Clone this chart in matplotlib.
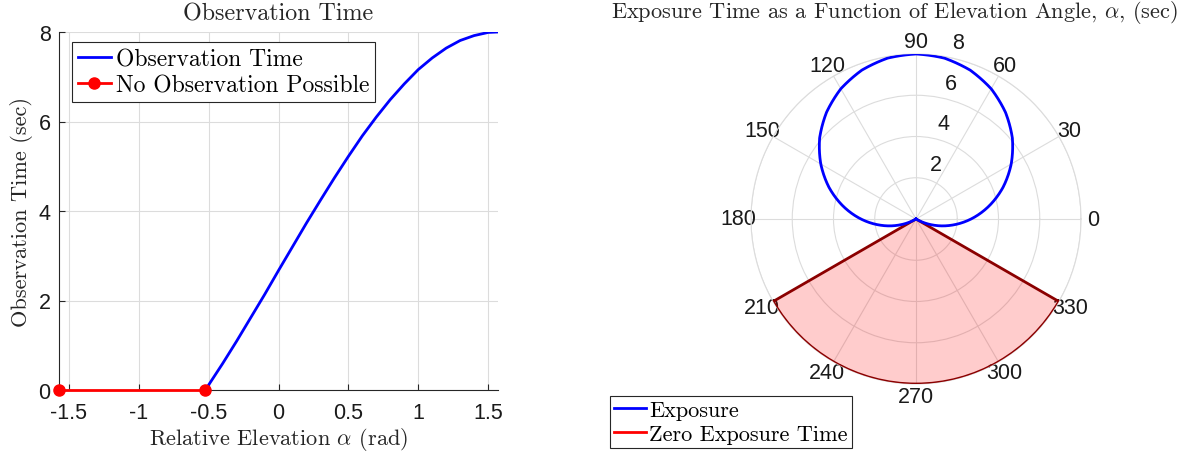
import numpy as np
import matplotlib
matplotlib.use("Agg")
import matplotlib.pyplot as plt
from matplotlib.lines import Line2D

# ---------------- data ----------------
# Left: observation time vs relative elevation (rad)
obs_alpha = [-0.5236, -0.4, -0.3, -0.2, -0.1, 0.0, 0.1, 0.2, 0.3, 0.4, 0.5,
             0.6, 0.7, 0.8, 0.9, 1.0, 1.1, 1.2, 1.3, 1.4, 1.5, 1.5708]
obs_time = [0.00, 0.59, 1.09, 1.61, 2.13, 2.67, 3.20, 3.73, 4.24, 4.74, 5.22,
            5.68, 6.10, 6.49, 6.84, 7.16, 7.42, 7.64, 7.81, 7.92, 7.99, 8.00]
noobs_alpha = [-1.5708, -0.5236]
noobs_time = [0.0, 0.0]

# Right: exposure time vs elevation angle (deg)
exp_theta_deg = [-30, -20, -10, 0, 10, 20, 30, 40, 50, 60, 70, 80, 90,
                 100, 110, 120, 130, 140, 150, 160, 170, 180, 190, 200, 210]
exp_r = [0.00, 0.84, 1.74, 2.67, 3.59, 4.49, 5.33, 6.10, 6.75, 7.29, 7.68, 7.92, 8.00,
         7.92, 7.68, 7.29, 6.75, 6.10, 5.33, 4.49, 3.59, 2.67, 1.74, 0.84, 0.00]
zero_sector_deg = [210, 330]
zero_sector_r = 8.0

x_ticks = [-1.5, -1, -0.5, 0, 0.5, 1, 1.5]
x_ticklabels = ["-1.5", "-1", "-0.5", "0", "0.5", "1", "1.5"]
y_ticks = [0, 2, 4, 6, 8]
theta_ticks = list(range(0, 360, 30))
r_ticks = [2, 4, 6, 8]

# ---------------- style ----------------
plt.rcParams['mathtext.fontset'] = 'cm'
plt.rcParams['axes.unicode_minus'] = False
SERIF = 'cmr10'
SANS = 'Liberation Sans'
GRID = '#dcdcdc'
AXC = '#262626'
TXT = '#262626'
W, H = 1204, 456

fig = plt.figure(figsize=(W / 100, H / 100), dpi=100)

# ---------------- left axes ----------------
ax = fig.add_axes([59 / W, 1 - 391 / H, (498 - 59) / W, (391 - 33) / H])
ax.plot(obs_alpha, obs_time, color='blue', lw=2.0, label='Observation Time')
ax.plot(noobs_alpha, noobs_time, color='red', lw=2.0, marker='o', ms=8,
        label='No Observation Possible', clip_on=False, zorder=5)
ax.set_xlim(-np.pi / 2, np.pi / 2)
ax.set_ylim(0, 8)
ax.set_xticks(x_ticks)
ax.set_xticklabels(x_ticklabels)
ax.set_yticks(y_ticks)
ax.grid(True, color=GRID, lw=0.8)
ax.set_axisbelow(True)
for s in ['top', 'right']:
    ax.spines[s].set_visible(False)
for s in ['left', 'bottom']:
    ax.spines[s].set_color(AXC)
    ax.spines[s].set_linewidth(0.8)
ax.tick_params(direction='in', length=4, width=0.8, color=AXC, labelcolor='#1a1a1a',
               labelsize=15.5)
ax.tick_params(axis='x', pad=9)
ax.tick_params(axis='y', pad=6)
for lab in ax.get_xticklabels() + ax.get_yticklabels():
    lab.set_fontfamily(SANS)
ax.set_title('Observation Time', fontfamily=SERIF, fontsize=17.3, color=TXT, pad=9)
ax.set_xlabel(r'Relative Elevation $\alpha$ (rad)', fontfamily=SERIF, fontsize=16.1,
              color=TXT)
ax.set_ylabel('Observation Time (sec)', fontfamily=SERIF, fontsize=16.1, color=TXT)
ax.xaxis.set_label_coords(0.5, -0.098)
ax.yaxis.set_label_coords(-0.06, 0.5)
leg = ax.legend(loc='upper left', bbox_to_anchor=(72 / W, 1 - 43 / H),
                bbox_transform=fig.transFigure, borderaxespad=0,
                prop={'family': SERIF, 'size': 17}, fancybox=False,
                edgecolor=AXC, framealpha=1, handlelength=1.4, handletextpad=0.2,
                borderpad=0.25, labelspacing=0.18)
leg.get_frame().set_linewidth(0.8)

# ---------------- polar axes ----------------
cx, cy, R = 916, 220, 165
pax = fig.add_axes([(cx - R) / W, 1 - (cy + R) / H, 2 * R / W, 2 * R / H],
                   projection='polar')
pax.set_theta_zero_location('E')
pax.set_theta_direction(1)
sec_center = np.deg2rad((zero_sector_deg[0] + zero_sector_deg[1]) / 2)
sec_width = np.deg2rad(zero_sector_deg[1] - zero_sector_deg[0])
pax.bar(sec_center, zero_sector_r, width=sec_width, bottom=0,
        facecolor=(1, 0, 0, 0.2), edgecolor='#8b0000', lw=2.0, zorder=3)
bl, = pax.plot(np.deg2rad(exp_theta_deg), exp_r, color='blue', lw=2.0, zorder=4)
bl.get_path()._interpolation_steps = 16
pax.set_ylim(0, 8)
pax.set_yticks(r_ticks)
pax.set_yticklabels([])
pax.set_xticks(np.deg2rad(theta_ticks))
pax.set_xticklabels([str(t) for t in theta_ticks], fontfamily=SANS, fontsize=15.5,
                    color='#1a1a1a')
pax.tick_params(axis='x', pad=-1.5)
pax.grid(True, color=GRID, lw=0.8)
pax.set_axisbelow(True)
pax.spines['polar'].set_color(GRID)
pax.spines['polar'].set_linewidth(0.8)
for rt in r_ticks:
    pax.annotate(str(rt), xy=(np.deg2rad(80), rt), xytext=(13, 14),
                 textcoords='offset pixels', ha='center', va='center',
                 fontfamily=SANS, fontsize=15.5, color='#1a1a1a', zorder=6,
                 annotation_clip=False)

fig.text(894 / W, 1 - 13 / H,
         r'Exposure Time as a Function of Elevation Angle, $\alpha$, (sec)',
         ha='center', va='center', fontfamily=SERIF, fontsize=16.1, color=TXT)

handles = [Line2D([], [], color='blue', lw=2.0), Line2D([], [], color='red', lw=2.0)]
leg2 = fig.legend(handles, ['Exposure', 'Zero Exposure Time'], loc='lower left',
                  bbox_to_anchor=(610 / W, 1 - 449 / H), borderaxespad=0,
                  prop={'family': SERIF, 'size': 16}, fancybox=False,
                  edgecolor=AXC, framealpha=1, handlelength=1.4, handletextpad=0.15,
                  borderpad=0.2, labelspacing=0.2)
leg2.get_frame().set_linewidth(0.8)

fig.savefig('out.png', dpi=100)
